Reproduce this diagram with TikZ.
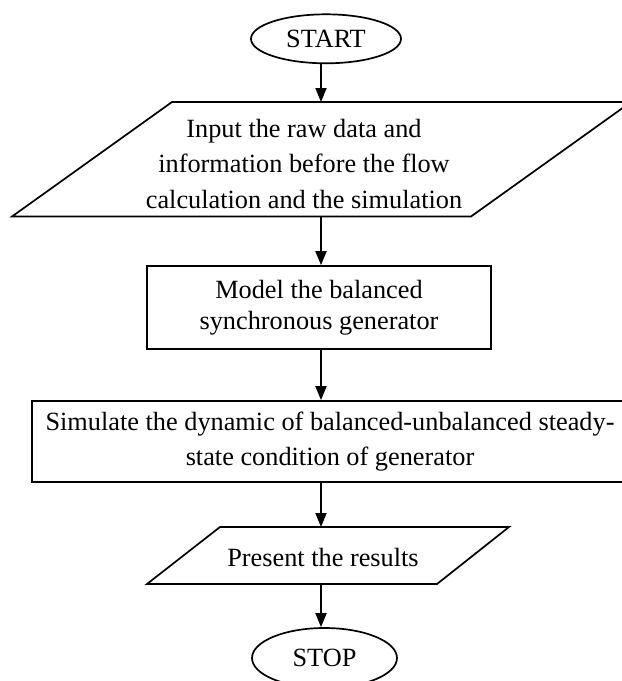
\documentclass[tikz,border=0pt]{standalone}
\usepackage{fontspec}
\setmainfont{Liberation Serif}
\usetikzlibrary{arrows.meta,shapes.geometric}
\begin{document}
\begin{tikzpicture}[x=1pt,y=-1pt,
  line width=1.7pt,
  flowarrow/.style={-{Triangle[length=14pt,width=11pt]}, line width=1.8pt},
  termbox/.style={ellipse, draw, inner sep=0pt, font=\fontsize{26.3}{30}\selectfont},
  procbox/.style={rectangle, draw, inner sep=0pt, align=center},
  iobox/.style={draw, line join=miter},
  txt/.style={align=center, inner sep=0pt}]
\useasboundingbox (0,0) rectangle (622,681);
\clip (0,0) rectangle (622,681);

% START
\node[termbox, minimum width=150pt, minimum height=49pt] (start) at (326,38.8) {START};

% Input parallelogram
\draw[iobox] (172,102) -- (631,102) -- (471,216.5) -- (12,216.5) -- cycle;
\coordinate (p1top) at (321,102);
\coordinate (p1bot) at (321,216.5);
\node[txt, font=\fontsize{26.3}{35.5}\selectfont] (input) at (304,163.5)
  {Input the raw data and\\information before the flow\\calculation and the simulation};

% Model box
\node[procbox, minimum width=344pt, minimum height=83pt,
  font=\fontsize{26.3}{30.5}\selectfont] (model) at (319,307.5)
  {Model the balanced\\synchronous generator};

% Simulate box
\node[procbox, minimum width=596pt, minimum height=81pt,
  font=\fontsize{26.3}{35}\selectfont] (sim) at (330,441.5)
  {Simulate the dynamic of balanced-unbalanced steady-\\state condition of generator};

% Present parallelogram
\draw[iobox] (220,527) -- (509,527) -- (437,584) -- (147,584) -- cycle;
\coordinate (p2top) at (321,527);
\coordinate (p2bot) at (321,584);
\node[txt, anchor=base, font=\fontsize{26.3}{30}\selectfont] (present) at (323,566) {Present the results};

% STOP
\node[termbox, minimum width=145pt, minimum height=60pt] (stop) at (324.5,658) {STOP};

% connectors
\draw[flowarrow] (start.south -| p1top) -- (p1top);
\draw[flowarrow] (p1bot) -- (p1bot |- model.north);
\draw[flowarrow] (model.south -| p1bot) -- (sim.north -| p1bot);
\draw[flowarrow] (sim.south -| p2top) -- (p2top);
\draw[flowarrow] (p2bot) -- (p2bot |- stop.north);
\end{tikzpicture}
\end{document}
